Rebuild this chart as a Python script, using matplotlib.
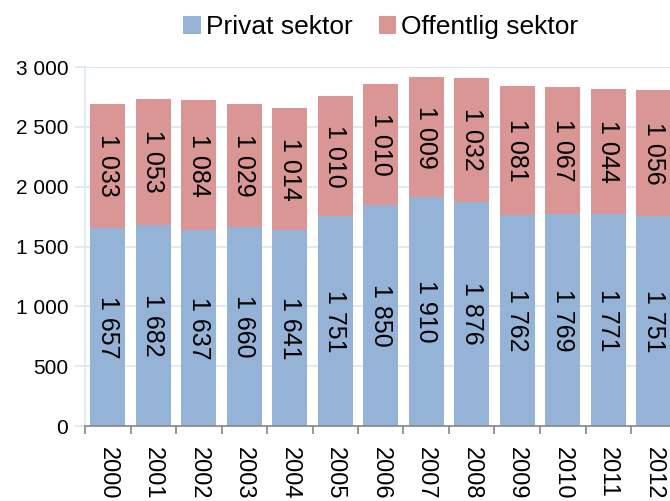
import matplotlib.pyplot as plt
import numpy as np

years = ["2000", "2001", "2002", "2003", "2004", "2005", "2006",
         "2007", "2008", "2009", "2010", "2011", "2012"]
privat = [1657, 1682, 1637, 1660, 1641, 1751, 1850, 1910, 1876, 1762, 1769, 1771, 1751]
offentlig = [1033, 1053, 1084, 1029, 1014, 1010, 1010, 1009, 1032, 1081, 1067, 1044, 1056]
yticks = [0, 500, 1000, 1500, 2000, 2500, 3000]


def fmt(v):
    return "{:,}".format(v).replace(",", " ")


def main():
    plt.rcParams["font.family"] = ["Liberation Sans", "DejaVu Sans"]
    fig = plt.figure(figsize=(6.7, 5.01), dpi=100)
    ax = fig.add_axes([85 / 670, 75 / 501, 591.5 / 670, 359 / 501])

    x = np.arange(len(years))
    blue = "#95b3d7"
    red = "#d99694"
    b1 = ax.bar(x, privat, width=0.77, color=blue, label="Privat sektor", zorder=2)
    b2 = ax.bar(x, offentlig, width=0.77, bottom=privat, color=red,
                label="Offentlig sektor", zorder=2)

    for i in range(len(years)):
        ax.text(x[i], privat[i] / 2, fmt(privat[i]), rotation=270,
                ha="center", va="center", fontsize=18, zorder=3)
        ax.text(x[i], privat[i] + offentlig[i] / 2, fmt(offentlig[i]), rotation=270,
                ha="center", va="center", fontsize=18, zorder=3)

    ax.set_xlim(-0.5, len(years) - 0.5)
    ax.set_ylim(0, 3000)
    ax.set_yticks(yticks)
    ax.set_yticklabels([fmt(v) for v in yticks], fontsize=15)
    ax.yaxis.grid(True, color="#dce5f1", linewidth=1.2, zorder=0)
    ax.tick_params(axis="y", length=7, color="#dce5f1", width=1.2, pad=5)

    ax.set_xticks(x)
    ax.set_xticklabels(years, rotation=270, fontsize=17)
    ax.set_xticks(np.arange(len(years) + 1) - 0.5, minor=True)
    ax.tick_params(axis="x", which="major", length=0, pad=15)
    ax.tick_params(axis="x", which="minor", length=6, color="#868686", width=1.2)

    for s in ["top", "right"]:
        ax.spines[s].set_visible(False)
    ax.spines["left"].set_color("#dce5f1")
    ax.spines["left"].set_linewidth(1.2)
    ax.spines["bottom"].set_color("#868686")
    ax.spines["bottom"].set_linewidth(1.2)

    fig.legend(handles=[b1, b2], loc="center", bbox_to_anchor=(381 / 670, 1 - 27 / 501),
               ncol=2, frameon=False, fontsize=19, handlelength=0.65, handleheight=0.65,
               handletextpad=0.2, columnspacing=1.0)

    fig.savefig("out.png", dpi=100)


if __name__ == '__main__':
    main()
